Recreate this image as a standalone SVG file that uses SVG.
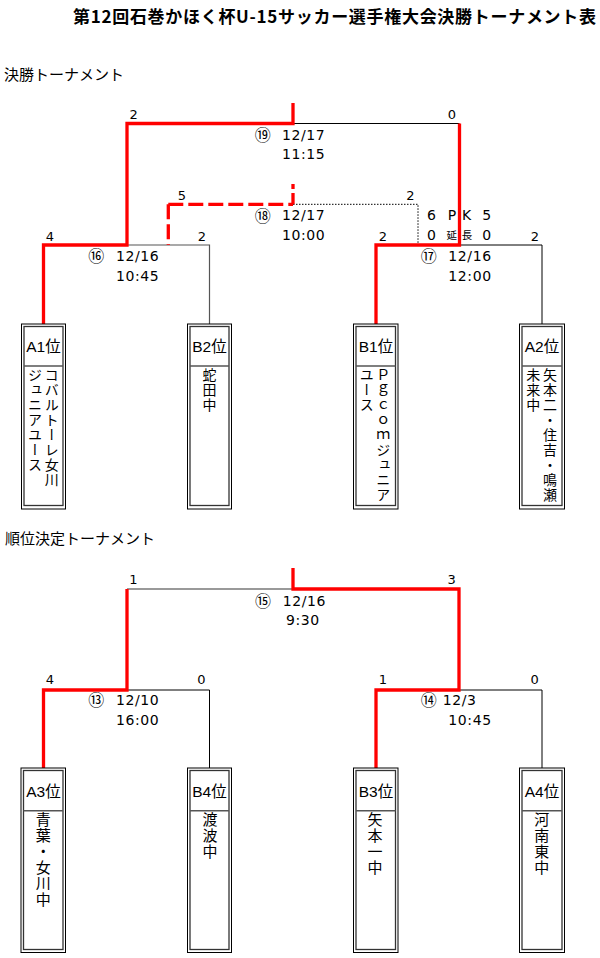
<svg xmlns="http://www.w3.org/2000/svg" width="600" height="958" viewBox="0 0 600 958">
<style>
.title{font-family:"Noto Sans CJK JP","Noto Sans CJK SC",sans-serif;font-size:17px;font-weight:bold;fill:#000}
.sec{font-family:"Noto Sans CJK JP","Noto Sans CJK SC",sans-serif;font-size:15px;fill:#000}
.sc{font-family:"DejaVu Sans",sans-serif;font-size:13px;text-anchor:middle;fill:#000}
.dt{font-family:"DejaVu Sans",sans-serif;font-size:14px;letter-spacing:0.6px;fill:#000}
.cn{font-family:"Noto Sans CJK JP","DejaVu Sans",sans-serif;font-size:16px;text-anchor:middle;fill:#000}
.sm{font-family:"Noto Sans CJK JP",sans-serif;font-size:10.5px;text-anchor:middle;fill:#000}
.hd{font-family:"Liberation Sans","Noto Sans CJK JP",sans-serif;font-size:15.5px;text-anchor:middle;fill:#000}
.vt{font-family:"Noto Sans CJK JP",sans-serif;font-size:14px;writing-mode:vertical-rl;letter-spacing:1px;fill:#000}
.vt2{font-family:"Noto Sans CJK JP",sans-serif;font-size:15px;writing-mode:vertical-rl;letter-spacing:1px;fill:#000}
.red{stroke:#ff0000;stroke-width:3.3;fill:none}
.redd{stroke:#ff0000;stroke-width:3.3;fill:none;stroke-dasharray:15 5}
.blk{stroke:#000;stroke-width:1;fill:none}
.gry{stroke:#777;stroke-width:1.6;fill:none}
.dgr{stroke:#555;stroke-width:1.2;fill:none}
.dot{stroke:#000;stroke-width:1;fill:none;stroke-dasharray:1.5 1.5}
.ob{fill:#fff;stroke:#000;stroke-width:1}
.ib{fill:none;stroke:#333;stroke-width:1.3}
.sep{stroke:#555;stroke-width:1.5}
</style>
<rect width="600" height="958" fill="#fff"/>
<text class="title" x="73" y="23" textLength="523" lengthAdjust="spacing">第12回石巻かほく杯U-15サッカー選手権大会決勝トーナメント表</text>
<text class="sec" x="4" y="80">決勝トーナメント</text>
<text class="sec" x="5" y="544">順位決定トーナメント</text>

<g id="connectors">
  <path class="blk" d="M293,123.5 H459.5"/>
  <path class="dgr" d="M127,245 H209.5 V324"/>
  <path class="blk" d="M459.5,245 H542 V324"/>
  <path class="dot" d="M293,204.3 H418 V245"/>
  <path class="redd" d="M168.3,204.3 H293"/>
  <path class="redd" d="M168.3,204.3 V245"/>
  <path class="red" d="M293,184 V204.3" style="stroke-dasharray:5 4 12"/>
  <path class="red" d="M43.5,324 V245 H127 V123.5 H293 V103"/>
  <path class="red" d="M376,324 V245 H459.5 V123.5"/>
  <path class="gry" d="M127,589 H293"/>
  <path class="blk" d="M127,690 H209.5 V768"/>
  <path class="blk" d="M459,690 H542 V768"/>
  <path class="red" d="M43.5,768 V690 H127 V589"/>
  <path class="red" d="M376,768 V690 H459 V589 H293 V568"/>
</g>

<g id="labels">
  <text class="sc" x="133.7" y="119">2</text>
  <text class="sc" x="452" y="119">0</text>
  <text class="sc" x="182" y="200">5</text>
  <text class="sc" x="410.5" y="200">2</text>
  <text class="sc" x="50" y="241">4</text>
  <text class="sc" x="202" y="241">2</text>
  <text class="sc" x="383" y="241">2</text>
  <text class="sc" x="535" y="241">2</text>

  <text class="cn" x="262.7" y="140.5">⑲</text>
  <text class="dt" x="282" y="139.5">12/17</text>
  <text class="dt" x="282" y="159">11:15</text>

  <text class="cn" x="262.7" y="221.5">⑱</text>
  <text class="dt" x="282" y="220">12/17</text>
  <text class="dt" x="282" y="240">10:00</text>

  <text class="cn" x="96.3" y="262">⑯</text>
  <text class="dt" x="116" y="261">12/16</text>
  <text class="dt" x="116" y="281">10:45</text>

  <text class="cn" x="428.8" y="262">⑰</text>
  <text class="dt" x="448.3" y="261">12/16</text>
  <text class="dt" x="448.3" y="281">12:00</text>

  <text class="sc" x="431.5" y="220" style="font-size:14px">6</text>
  <text class="sc" x="452" y="220" style="font-size:14px">P</text>
  <text class="sc" x="466.5" y="220" style="font-size:14px">K</text>
  <text class="sc" x="486.7" y="220" style="font-size:14px">5</text>
  <text class="sc" x="431.5" y="240" style="font-size:14px">0</text>
  <text class="sm" x="451.7" y="239">延</text>
  <text class="sm" x="467" y="239">長</text>
  <text class="sc" x="486.7" y="240" style="font-size:14px">0</text>

  <text class="sc" x="133.5" y="583.5">1</text>
  <text class="sc" x="451.7" y="584">3</text>
  <text class="sc" x="50" y="684">4</text>
  <text class="sc" x="201.5" y="684">0</text>
  <text class="sc" x="383" y="684">1</text>
  <text class="sc" x="534.7" y="684">0</text>

  <text class="cn" x="263" y="606.5">⑮</text>
  <text class="dt" x="282.7" y="605.5">12/16</text>
  <text class="dt" x="286" y="625">9:30</text>

  <text class="cn" x="96.3" y="706">⑬</text>
  <text class="dt" x="116" y="705">12/10</text>
  <text class="dt" x="116" y="724.5">16:00</text>

  <text class="cn" x="428.8" y="706">⑭</text>
  <text class="dt" x="442.7" y="705">12/3</text>
  <text class="dt" x="448.3" y="724.5">10:45</text>
</g>

<g id="A1">
  <rect class="ob" x="21.5" y="324" width="44" height="185"/>
  <rect class="ib" x="24" y="326.5" width="39" height="179"/>
  <line class="sep" x1="24" y1="366" x2="63" y2="366"/>
  <text class="hd" x="43.5" y="352">A1位</text>
  <text class="vt" x="51.7" y="368">コバルトーレ女川</text>
  <text class="vt" x="35" y="368">ジュニアユース</text>
</g>
<g id="B2">
  <rect class="ob" x="187.5" y="324" width="44" height="185"/>
  <rect class="ib" x="190" y="326.5" width="39" height="179"/>
  <line class="sep" x1="190" y1="366" x2="229" y2="366"/>
  <text class="hd" x="209.5" y="352">B2位</text>
  <text class="vt" x="209.5" y="368">蛇田中</text>
</g>
<g id="B1">
  <rect class="ob" x="353.5" y="324" width="44.5" height="185"/>
  <rect class="ib" x="356" y="326.5" width="39.5" height="179"/>
  <line class="sep" x1="356" y1="366" x2="395.5" y2="366"/>
  <text class="hd" x="376" y="352">B1位</text>
  <text class="vt" x="383.3" y="368">Ｐｇｃｏｍジュニア</text>
  <text class="vt" x="366.7" y="368">ユース</text>
</g>
<g id="A2">
  <rect class="ob" x="519.5" y="324" width="45" height="185"/>
  <rect class="ib" x="522" y="326.5" width="40" height="179"/>
  <line class="sep" x1="522" y1="366" x2="562" y2="366"/>
  <text class="hd" x="542" y="352">A2位</text>
  <text class="vt" x="550" y="368">矢本二・住吉・鳴瀬</text>
  <text class="vt" x="533.3" y="368">未来中</text>
</g>

<g id="A3">
  <rect class="ob" x="21" y="768" width="44.5" height="184.5"/>
  <rect class="ib" x="23.5" y="770.5" width="39.5" height="179"/>
  <line class="sep" x1="23.5" y1="810.7" x2="63" y2="810.7"/>
  <text class="hd" x="43.5" y="797">A3位</text>
  <text class="vt2" x="43.3" y="812">青葉・女川中</text>
</g>
<g id="B4">
  <rect class="ob" x="187.5" y="768" width="44" height="184.5"/>
  <rect class="ib" x="190" y="770.5" width="39" height="179"/>
  <line class="sep" x1="190" y1="810.7" x2="229" y2="810.7"/>
  <text class="hd" x="209.5" y="797">B4位</text>
  <text class="vt2" x="210" y="812">渡波中</text>
</g>
<g id="B3">
  <rect class="ob" x="353.5" y="768" width="44.5" height="184.5"/>
  <rect class="ib" x="356" y="770.5" width="39.5" height="179"/>
  <line class="sep" x1="356" y1="810.7" x2="395.5" y2="810.7"/>
  <text class="hd" x="376" y="797">B3位</text>
  <text class="vt2" x="375" y="812">矢本一中</text>
</g>
<g id="A4">
  <rect class="ob" x="519.5" y="768" width="45" height="184.5"/>
  <rect class="ib" x="522" y="770.5" width="40" height="179"/>
  <line class="sep" x1="522" y1="810.7" x2="562" y2="810.7"/>
  <text class="hd" x="542" y="797">A4位</text>
  <text class="vt2" x="541.7" y="812">河南東中</text>
</g>
</svg>
